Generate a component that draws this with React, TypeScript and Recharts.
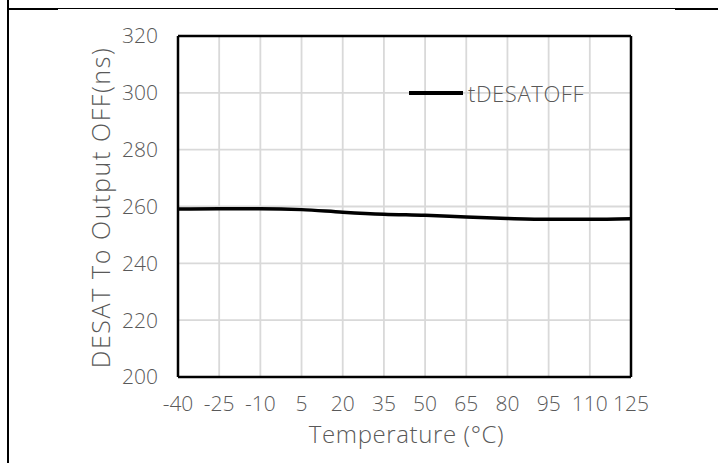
import React from 'react';
import { LineChart, Line, XAxis, YAxis, CartesianGrid, Legend, ReferenceLine, Label } from 'recharts';

const temperatures = [-40, -25, -10, 5, 20, 35, 50, 65, 80, 95, 110, 125];
const tDesatOff = [259.1, 259.2, 259.2, 258.9, 258.0, 257.3, 256.9, 256.3, 255.8, 255.5, 255.5, 255.7];
const xTicks = [-40, -25, -10, 5, 20, 35, 50, 65, 80, 95, 110, 125];
const yTicks = [200, 220, 240, 260, 280, 300, 320];
const seriesName = 'tDESATOFF';
const xTitle = 'Temperature (°C)';
const yTitle = 'DESAT To Output OFF(ns)';

const data = temperatures.map((t, i) => ({ t, v: tDesatOff[i] }));

const FONT = '"Open Sans", "Noto Sans", sans-serif';
const GREY = '#595959';

const LegendContent = (props: any) => {
  const p = (props.payload || [])[0];
  return (
    <div style={{ display: 'flex', alignItems: 'center', height: 26, fontFamily: FONT, fontWeight: 300 }}>
      <div style={{ width: 54, height: 3.5, background: '#000' }} />
      <span style={{ marginLeft: 5, fontSize: 22, letterSpacing: 0.6, color: GREY }}>{p ? p.value : seriesName}</span>
    </div>
  );
};

export default function App() {
  return (
    <div style={{ position: 'absolute', left: 0, top: 0, width: 718, height: 463, background: '#fff' }}>
      <div style={{ position: 'absolute', left: 7, top: 0, width: 2, height: 463, background: '#000' }} />
      <div style={{ position: 'absolute', left: 7, top: 8, width: 51, height: 2, background: '#000' }} />
      <div style={{ position: 'absolute', left: 58, top: 8, width: 617, height: 1, background: '#000' }} />
      <div style={{ position: 'absolute', left: 675, top: 8, width: 43, height: 2, background: '#000' }} />
      <LineChart width={718} height={463} data={data} margin={{ top: 36, right: 87, bottom: 26, left: 60 }}>
        <CartesianGrid stroke="#d9d9d9" strokeWidth={1.8} />
        <XAxis
          dataKey="t"
          type="number"
          domain={[-40, 125]}
          ticks={xTicks}
          interval={0}
          height={60}
          tickLine={false}
          tickSize={0}
          tickMargin={19}
          axisLine={{ stroke: '#000', strokeWidth: 2.5 }}
          tick={{ fill: GREY, fontSize: 21, fontFamily: FONT, fontWeight: 300 }}
        >
          <Label
            content={(props: any) => {
              const vb = props.viewBox;
              return (
                <text x={vb.x + vb.width / 2 + 2} y={vb.y + 66} textAnchor="middle" fill={GREY} fontSize={24} letterSpacing={0.6} fontFamily={FONT} fontWeight={300}>
                  {xTitle}
                </text>
              );
            }}
          />
        </XAxis>
        <YAxis
          type="number"
          domain={[200, 320]}
          ticks={yTicks}
          interval={0}
          width={118}
          tickLine={false}
          tickSize={0}
          tickMargin={20}
          axisLine={{ stroke: '#000', strokeWidth: 2.5 }}
          tick={{ fill: GREY, fontSize: 21, fontFamily: FONT, fontWeight: 300 }}
        >
          <Label
            content={(props: any) => {
              const vb = props.viewBox;
              const cx = vb.x + 40;
              const cy = vb.y + vb.height / 2 + 1;
              return (
                <text x={cx} y={cy} textAnchor="middle" dominantBaseline="central" transform={`rotate(-90 ${cx} ${cy})`} fill={GREY} fontSize={25} letterSpacing={1.6} fontFamily={FONT} fontWeight={300}>
                  {yTitle}
                </text>
              );
            }}
          />
        </YAxis>
        <ReferenceLine y={320} stroke="#000" strokeWidth={2.5} />
        <ReferenceLine x={125} stroke="#000" strokeWidth={2.5} />
        <Legend
          layout="vertical"
          align="center"
          verticalAlign="middle"
          wrapperStyle={{ position: 'absolute', left: 409, top: 80, width: 'auto' }}
          content={LegendContent}
        />
        <Line
          type="monotone"
          dataKey="v"
          name={seriesName}
          stroke="#000"
          strokeWidth={3.5}
          dot={false}
          isAnimationActive={false}
        />
      </LineChart>
    </div>
  );
}
